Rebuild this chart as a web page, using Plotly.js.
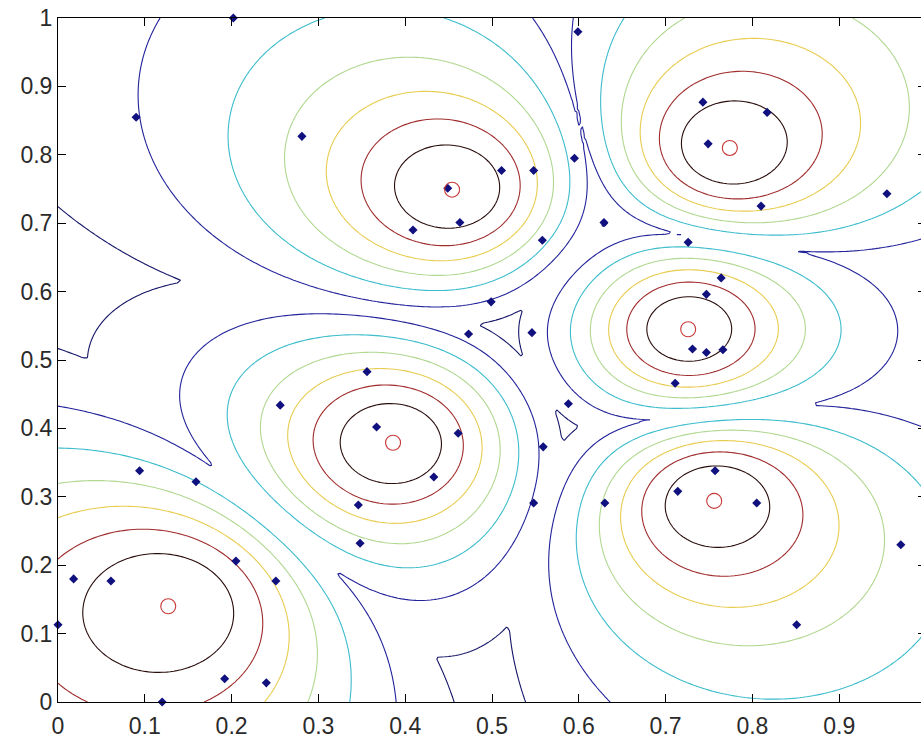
<!DOCTYPE html>
<html>
<head>
<meta charset="utf-8">
<script src="https://cdn.plot.ly/plotly-3.0.1.min.js"></script>
<style>
html,body{margin:0;padding:0;overflow:hidden;background:#fff;}
#chart{width:930px;height:739px;}
</style>
</head>
<body>
<div id="chart"></div>
<script>
// Cluster centres (red circles)
const centerX = [0.127, 0.386, 0.454, 0.774, 0.726, 0.756];
const centerY = [0.140, 0.379, 0.749, 0.810, 0.545, 0.294];
// Data points (blue markers)
const pointX = [0.018,0.061,0.000,0.205,0.251,0.192,0.240,0.120,0.159,0.094,0.256,0.090,0.202,0.281,0.449,0.511,0.548,0.463,0.409,0.595,0.599,0.629,0.558,0.743,0.817,0.749,0.810,0.955,0.726,0.499,0.473,0.546,0.356,0.367,0.461,0.433,0.588,0.559,0.764,0.747,0.731,0.747,0.766,0.711,0.757,0.714,0.805,0.630,0.971,0.851,0.346,0.348,0.548];
const pointY = [0.180,0.177,0.113,0.206,0.177,0.034,0.028,0.000,0.322,0.338,0.434,0.855,1.000,0.827,0.751,0.777,0.777,0.701,0.690,0.795,0.980,0.701,0.675,0.877,0.862,0.816,0.725,0.743,0.672,0.585,0.538,0.540,0.483,0.402,0.393,0.329,0.436,0.373,0.620,0.596,0.516,0.511,0.515,0.466,0.338,0.308,0.291,0.291,0.230,0.113,0.288,0.232,0.291];
// Contour levels of the maximum fuzzy membership and their colours
const levels = [0.3, 0.4, 0.5, 0.6, 0.7, 0.8, 0.9];
const levelColors = ['#16166a','#22229a','#3cbccc','#b0d890','#e8cc50','#a02c2c','#2a0c0c'];
const fuzzifier = 2;
const tickVals = [0,0.1,0.2,0.3,0.4,0.5,0.6,0.7,0.8,0.9,1];
const tickText = ['0','0.1','0.2','0.3','0.4','0.5','0.6','0.7','0.8','0.9','1'];

// grid of max membership
const N = 241;
const gx = [], gy = [];
for (let i = 0; i < N; i++) { gx.push(i/(N-1)); gy.push(i/(N-1)); }
const z = [];
const expo = 2/(fuzzifier-1);
for (let r = 0; r < N; r++) {
  const row = [];
  for (let c = 0; c < N; c++) {
    const d = centerX.map((cx,k) => Math.max(1e-9, Math.hypot(gx[c]-cx, gy[r]-centerY[k])));
    let best = 0;
    for (let k = 0; k < d.length; k++) {
      let s = 0;
      for (let j = 0; j < d.length; j++) s += Math.pow(d[k]/d[j], expo);
      best = Math.max(best, 1/s);
    }
    row.push(best);
  }
  z.push(row);
}

const traces = levels.map((L,i) => ({
  type: 'contour', x: gx, y: gy, z: z,
  autocontour: false,
  contours: {start: L, end: L, size: 0.1, coloring: 'none'},
  line: {color: levelColors[i], width: 1.1, smoothing: 0},
  showscale: false, hoverinfo: 'skip'
}));
traces.push({
  type: 'scatter', mode: 'markers', x: pointX, y: pointY,
  marker: {symbol: 'diamond', size: 7, color: '#10107e'},
  cliponaxis: false, hoverinfo: 'skip'
});
traces.push({
  type: 'scatter', mode: 'markers', x: centerX, y: centerY,
  marker: {symbol: 'circle-open', size: 15, color: '#c83838', line: {width: 1.1, color: '#c83838'}},
  cliponaxis: false, hoverinfo: 'skip'
});

const axisCommon = {
  range: [0,1], showgrid: false, zeroline: false, showline: true, linecolor: '#000', linewidth: 1,
  mirror: 'ticks', ticks: 'inside', ticklen: 8, tickcolor: '#000',
  tickvals: tickVals, ticktext: tickText,
  tickfont: {family: 'Liberation Sans, Arial, sans-serif', size: 23, color: '#2a2a2a'}
};
const layout = {
  width: 930, height: 739,
  margin: {l: 58, r: 4, t: 18, b: 37},
  paper_bgcolor: '#fff', plot_bgcolor: '#fff',
  showlegend: false,
  xaxis: Object.assign({}, axisCommon, {ticklabelstandoff: 3}),
  yaxis: Object.assign({}, axisCommon)
};
Plotly.newPlot('chart', traces, layout, {staticPlot: true});
</script>
</body>
</html>
